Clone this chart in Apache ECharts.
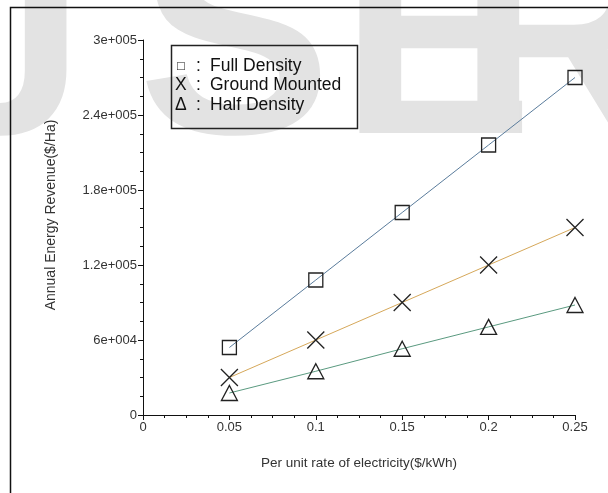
<!DOCTYPE html>
<html>
<head>
<meta charset="utf-8">
<script src="https://cdn.jsdelivr.net/npm/echarts@6/dist/echarts.min.js"></script>
<style>
html,body{margin:0;padding:0;background:#fff;}
#chart{width:608px;height:493px;}
</style>
</head>
<body>
<div id="chart"></div>
<script>
// ---- data ----
const rates = [0.05, 0.10, 0.15, 0.20, 0.25];
const fullDensity = [54000, 108000, 162000, 216000, 270000];
const groundMounted = [30000, 60000, 90000, 120000, 150000];
const halfDensity = [17600, 35000, 53000, 70500, 88000];
const seriesNames = ["Full Density", "Ground Mounted", "Half Density"];
const legendSymbols = ["\u25A1", "X", "\u0394"];
const legendLabels = ["Full Density", "Ground Mounted", "Half Density"];
const yTickLabels = ["0", "6e+004", "1.2e+005", "1.8e+005", "2.4e+005", "3e+005"];
const xTickLabels = ["0", "0.05", "0.1", "0.15", "0.2", "0.25"];
const xTitle = "Per unit rate of electricity($/kWh)";
const yTitle = "Annual Energy Revenue($/Ha)";
const watermark = ["J", "S", "E", "R"];

const chart = echarts.init(document.getElementById('chart'), null, {renderer: 'canvas'});
const pair = (ys) => rates.map((x, i) => [x, ys[i]]);
const FONT = '"Liberation Sans", Arial, sans-serif';

const markerStyle = {color: 'rgba(0,0,0,0)', borderColor: '#222', borderWidth: 1.3};
const wmX = [-75, 138, 340, 458];
const wmGraphics = watermark.map((ch, i) => ({
  type: 'text', z: -10, silent: true,
  left: wmX[i], top: -92,
  style: {text: ch, fill: '#e3e3e3', font: 'bold 290px ' + FONT}
}));

const legendItems = [];
legendLabels.forEach((t, i) => {
  const y = 66 + i * 19.5;
  legendItems.push({type: 'text', silent: true, x: i === 0 ? 177 : 175, y: y,
    style: {text: legendSymbols[i], fill: '#111', font: (i === 0 ? '13px ' : '17.5px ') + FONT, textVerticalAlign: 'middle'}});
  legendItems.push({type: 'text', silent: true, x: 196, y: y,
    style: {text: ':', fill: '#111', font: '17.5px ' + FONT, textVerticalAlign: 'middle'}});
  legendItems.push({type: 'text', silent: true, x: 210, y: y,
    style: {text: t, fill: '#111', font: '17.5px ' + FONT, textVerticalAlign: 'middle'}});
});

chart.setOption({
  animation: false,
  backgroundColor: '#fff',
  grid: {left: 143, right: 33, top: 40, bottom: 78, containLabel: false},
  xAxis: {
    type: 'value', min: 0, max: 0.25, interval: 0.05,
    name: xTitle, nameLocation: 'middle', nameGap: 41,
    nameTextStyle: {color: '#333', fontSize: 13.5, fontFamily: FONT},
    axisLine: {show: true, onZero: false, lineStyle: {color: '#111', width: 1}},
    axisTick: {show: true, length: 5, lineStyle: {color: '#111'}},
    minorTick: {show: true, splitNumber: 4, length: 3, lineStyle: {color: '#111'}},
    axisLabel: {margin: 6, color: '#333', fontSize: 13, fontFamily: FONT,
      formatter: (v, i) => xTickLabels[i]},
    splitLine: {show: false}
  },
  yAxis: {
    type: 'value', min: 0, max: 300000, interval: 60000,
    axisLine: {show: true, onZero: false, lineStyle: {color: '#111', width: 1}},
    axisTick: {show: true, length: 5, lineStyle: {color: '#111'}},
    minorTick: {show: true, splitNumber: 4, length: 3, lineStyle: {color: '#111'}},
    axisLabel: {margin: 6, color: '#333', fontSize: 13, fontFamily: FONT,
      formatter: (v, i) => yTickLabels[i]},
    splitLine: {show: false}
  },
  series: [
    {name: seriesNames[0], type: 'line', data: pair(fullDensity), symbol: 'rect', symbolSize: 14,
     lineStyle: {color: '#5a7c9c', width: 1}, itemStyle: markerStyle, z: 3},
    {name: seriesNames[1], type: 'line', data: pair(groundMounted), symbol: 'path://M0,0L10,10M10,0L0,10', symbolSize: 17,
     lineStyle: {color: '#d6a85a', width: 1}, itemStyle: markerStyle, z: 3},
    {name: seriesNames[2], type: 'line', data: pair(halfDensity), symbol: 'triangle', symbolSize: [16, 15],
     lineStyle: {color: '#5a9a80', width: 1}, itemStyle: markerStyle, z: 3}
  ],
  graphic: wmGraphics.concat([
    {type: 'rect', silent: true, z: 1, shape: {x: 10.5, y: 7.5, width: 700, height: 600},
     style: {fill: 'none', stroke: '#111', lineWidth: 1.5}},
    {type: 'rect', silent: true, z: 5, shape: {x: 171.5, y: 45.5, width: 186, height: 83},
     style: {fill: 'none', stroke: '#222', lineWidth: 1.5}},
    {type: 'group', z: 5, children: legendItems},
    {type: 'text', silent: true, z: 5, x: 51, y: 215, rotation: Math.PI / 2,
     style: {text: yTitle, fill: '#333', font: '14px ' + FONT,
       textAlign: 'center', textVerticalAlign: 'middle'}}
  ])
});
</script>
</body>
</html>
